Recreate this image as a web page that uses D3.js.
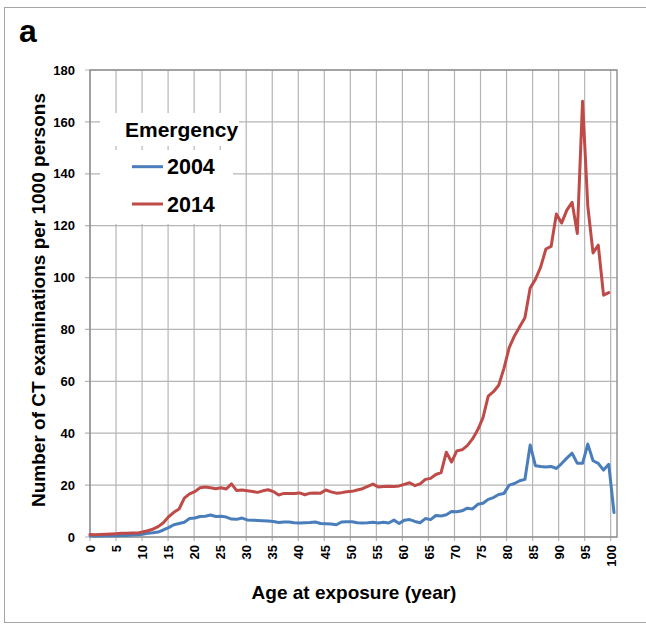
<!DOCTYPE html>
<html>
<head>
<meta charset="utf-8">
<script src="https://cdn.jsdelivr.net/npm/d3@7/dist/d3.min.js"></script>
<style>
  html, body { margin: 0; padding: 0; background: #fff; }
  svg { display: block; font-family: "Liberation Sans", Arial, sans-serif; }
  .tick text { font-weight: bold; fill: #000; }
</style>
</head>
<body>
<div id="chart"></div>
<script>
const AGES = d3.range(0, 101);
const X_TICKS = [0, 5, 10, 15, 20, 25, 30, 35, 40, 45, 50, 55, 60, 65, 70, 75, 80, 85, 90, 95, 100];
const Y_TICKS = [0, 20, 40, 60, 80, 100, 120, 140, 160, 180];

// 2004, ages 0..100
const RATE_2004 = [
  0.5, 0.4, 0.4, 0.5, 0.5, 0.5, 0.6, 0.6, 0.8, 0.9,
  1.1, 1.4, 1.6, 1.9, 2.7, 3.6, 4.7, 5.2, 5.7, 7.1,
  7.3, 7.9, 8.0, 8.5, 7.9, 8.0, 7.7, 6.9, 6.8, 7.3,
  6.6, 6.5, 6.4, 6.3, 6.2, 6.0, 5.6, 5.8, 5.8, 5.5,
  5.4, 5.5, 5.6, 5.8, 5.2, 5.1, 5.0, 4.7, 5.8, 5.9,
  5.9, 5.5, 5.4, 5.5, 5.7, 5.4, 5.7, 5.4, 6.5, 5.2,
  6.5, 6.7, 6.0, 5.5, 7.1, 6.7, 8.3, 8.1, 8.6, 9.8,
  9.7, 10.1, 11.1, 10.8, 12.6, 13.0, 14.5, 15.2, 16.4, 16.8,
  20.0, 20.6, 21.7, 22.2, 35.5, 27.5, 27.2, 27.0, 27.2, 26.4,
  28.3, 30.4, 32.3, 28.4, 28.4, 35.8, 29.4, 28.4, 25.8, 28.0,
  9.4,
];

// 2014, ages 0..99 (no value at 100)
const RATE_2014 = [
  1.0, 0.9, 1.0, 1.1, 1.2, 1.3, 1.4, 1.4, 1.5, 1.5,
  1.9, 2.4, 3.0, 4.0, 5.5, 7.8, 9.5, 10.8, 15.0, 16.6,
  17.5, 19.0, 19.3, 19.0, 18.6, 19.0, 18.5, 20.5, 17.9, 18.1,
  17.8, 17.5, 17.2, 17.8, 18.2, 17.5, 16.2, 16.8, 16.8, 16.8,
  17.0, 16.3, 16.9, 17.0, 16.9, 18.1, 17.4, 16.9, 17.1, 17.4,
  17.6, 18.1, 18.6, 19.5, 20.4, 19.3, 19.5, 19.6, 19.5, 19.7,
  20.3, 20.9, 19.8, 20.5, 22.2, 22.6, 24.1, 24.8, 32.7, 28.9,
  33.2, 33.6, 35.2, 37.8, 41.3, 46.0, 54.3, 56.0, 58.5, 65.0,
  73.0, 77.5, 81.0, 84.5, 96.0, 99.3, 104.0, 111.0, 112.0, 124.5,
  121.0, 126.0, 129.0, 117.0, 168.0, 127.5, 109.5, 112.5, 93.2, 94.2,
];

const SERIES = [
  { name: "2004", values: RATE_2004, color: "#4A7EBB" },
  { name: "2014", values: RATE_2014, color: "#BE4B48" },
];

const width = 646;
const height = 626;
const plot = { left: 90, top: 70, right: 617, bottom: 537 };

const svg = d3.select("#chart").append("svg").attr("width", width).attr("height", height);

// outer figure border
svg.append("rect")
  .attr("x", 4.5).attr("y", 7.5)
  .attr("width", width).attr("height", 615)
  .attr("fill", "none").attr("stroke", "#a6a6a6").attr("stroke-width", 1);

svg.append("text")
  .attr("x", 19).attr("y", 42)
  .attr("font-size", 32).attr("font-weight", "bold")
  .text("a");

const xGrid = d3.scaleLinear().domain([0, 100]).range([plot.left, 610.7]);
const xData = d3.scaleLinear().domain([0, 100]).range([plot.left, 614]);
const y = d3.scaleLinear().domain([0, 180]).range([plot.bottom, plot.top]);

// gridlines
svg.append("g")
  .selectAll("line")
  .data(X_TICKS)
  .join("line")
  .attr("x1", (d) => xGrid(d)).attr("x2", (d) => xGrid(d))
  .attr("y1", plot.top).attr("y2", plot.bottom + 4)
  .attr("stroke", "#b5b5b5").attr("stroke-width", 1.2);

svg.append("g")
  .selectAll("line")
  .data(Y_TICKS)
  .join("line")
  .attr("x1", plot.left - 5).attr("x2", plot.right)
  .attr("y1", (d) => y(d)).attr("y2", (d) => y(d))
  .attr("stroke", "#b5b5b5").attr("stroke-width", 1.2);

// plot frame
svg.append("rect")
  .attr("x", plot.left).attr("y", plot.top)
  .attr("width", plot.right - plot.left).attr("height", plot.bottom - plot.top)
  .attr("fill", "none").attr("stroke", "#8c8c8c").attr("stroke-width", 1.4);

// axes (labels only, tick lines are the gridline stubs)
svg.append("g")
  .attr("transform", `translate(${plot.left}, 0)`)
  .call(d3.axisLeft(y).tickValues(Y_TICKS).tickSize(5).tickPadding(10))
  .call((g) => g.select(".domain").remove())
  .call((g) => g.selectAll(".tick line").remove())
  .call((g) => g.selectAll("text").attr("font-size", 13).attr("font-family", null));

svg.append("g")
  .attr("transform", `translate(0, ${plot.bottom})`)
  .call(d3.axisBottom(xGrid).tickValues(X_TICKS).tickSize(4))
  .call((g) => g.select(".domain").remove())
  .call((g) => g.selectAll(".tick line").remove())
  .call((g) => g.selectAll("text")
    .attr("font-size", 13)
    .attr("font-family", null)
    .attr("transform", "rotate(-90)")
    .attr("text-anchor", "end")
    .attr("x", -8)
    .attr("y", 0)
    .attr("dy", "0.36em"));

svg.append("text")
  .attr("x", 354)
  .attr("y", 599)
  .attr("text-anchor", "middle")
  .attr("font-size", 19).attr("font-weight", "bold")
  .text("Age at exposure (year)");

svg.append("text")
  .attr("transform", "translate(45, 300) rotate(-90)")
  .attr("text-anchor", "middle")
  .attr("font-size", 19).attr("font-weight", "bold")
  .text("Number of CT examinations per 1000 persons");

// lines
const line = d3.line()
  .x((d, i) => xData(AGES[i]))
  .y((d) => y(d));

svg.append("g")
  .selectAll("path")
  .data(SERIES)
  .join("path")
  .attr("d", (d) => line(d.values))
  .attr("fill", "none")
  .attr("stroke", (d) => d.color)
  .attr("stroke-width", 3)
  .attr("stroke-linejoin", "round")
  .attr("stroke-linecap", "round");

// legend: title box + entries box (white, hiding gridlines)
svg.append("rect").attr("x", 100).attr("y", 113).attr("width", 139).attr("height", 33).attr("fill", "#fff");
svg.append("rect").attr("x", 100).attr("y", 150).attr("width", 133).attr("height", 74).attr("fill", "#fff");

svg.append("text")
  .attr("x", 125).attr("y", 137)
  .attr("font-size", 21).attr("font-weight", "bold")
  .text("Emergency");

const legend = svg.append("g")
  .selectAll("g")
  .data(SERIES)
  .join("g")
  .attr("transform", (d, i) => `translate(0, ${166.7 + i * 37.3})`);

legend.append("line")
  .attr("x1", 132).attr("x2", 163)
  .attr("y1", 0).attr("y2", 0)
  .attr("stroke", (d) => d.color)
  .attr("stroke-width", 3);

legend.append("text")
  .attr("x", 167).attr("y", 7.5)
  .attr("font-size", 21.5).attr("font-weight", "bold")
  .text((d) => d.name);
</script>
</body>
</html>
